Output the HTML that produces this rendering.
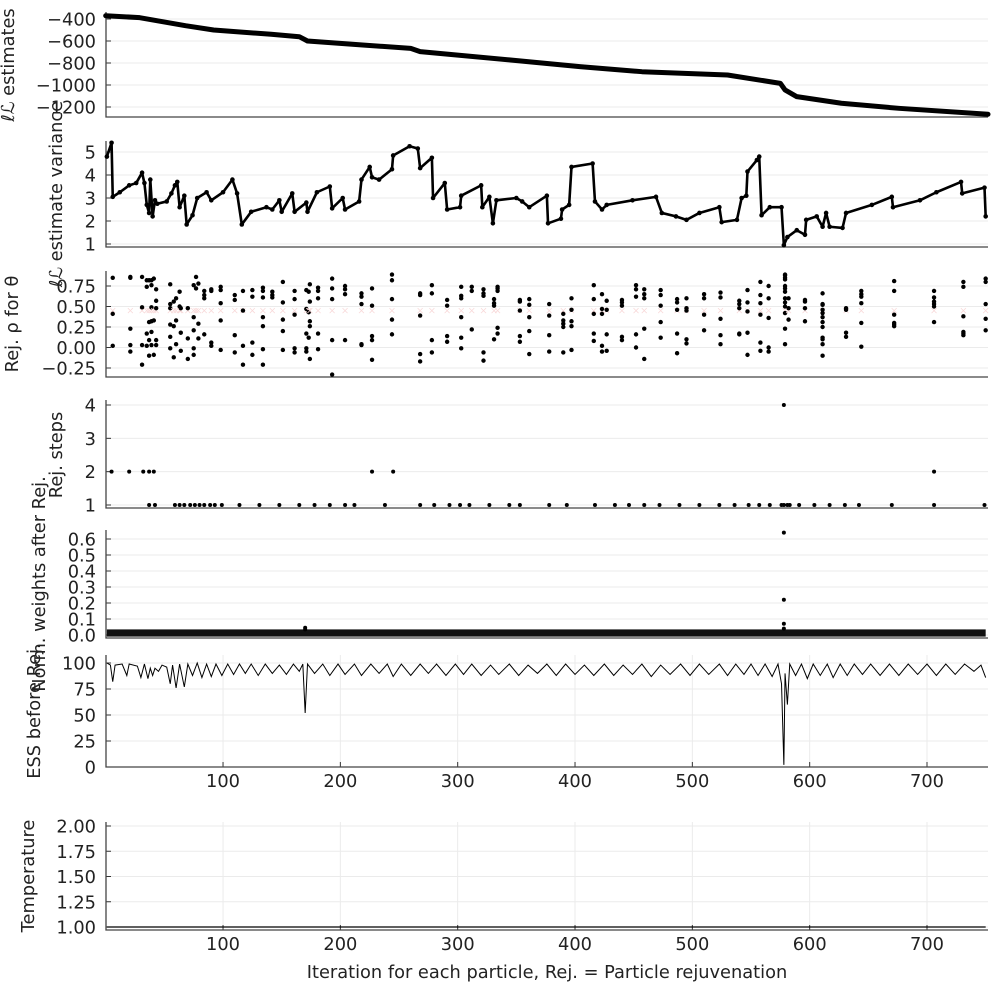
<!DOCTYPE html>
<html><head><meta charset="utf-8"><style>
body{margin:0;background:#fff;}
svg{display:block;font-family:"DejaVu Sans","Liberation Sans",sans-serif;}
</style></head><body>
<svg id="chart" width="999" height="999" viewBox="0 0 999 999"></svg>
<script>
// ---------- data ----------
const llIters=[0,29,68,92,141,165,172,219,260,268,345,404,457,530,575,579,589,627,676,752];
const llVals=[-370,-388,-461,-500,-539,-561,-600,-636,-667,-697,-773,-833,-879,-909,-985,-1045,-1106,-1166,-1212,-1266];
const varIters=[1,5,6,12,20,26,31,33,35,37,38,40,42,44,52,56,59,61,63,67,69,74,78,86,90,100,108,112,116,124,137,142,148,150,159,161,171,172,180,191,193,202,204,216,218,225,227,233,244,245,259,266,268,278,279,289,291,302,303,320,321,327,330,333,350,355,361,376,377,388,389,395,397,415,417,423,427,449,469,474,486,495,506,523,525,538,542,546,547,555,557,559,566,576,578,581,589,596,597,606,611,614,617,628,631,653,670,671,694,708,729,730,749,750];
const varVals=[4.8,5.4,3.05,3.25,3.55,3.65,4.1,3.65,2.7,2.35,3.8,2.2,2.9,2.75,2.85,3.2,3.55,3.7,2.6,3.1,1.85,2.25,3.0,3.25,2.9,3.25,3.8,3.2,1.85,2.4,2.6,2.5,2.9,2.4,3.2,2.4,2.8,2.4,3.25,3.5,2.55,3.0,2.5,2.85,3.8,4.35,3.9,3.8,4.25,4.85,5.25,5.15,4.3,4.75,3.0,3.65,2.5,2.6,3.1,3.55,2.6,3.05,1.9,2.9,3.0,2.85,2.6,3.1,1.9,2.1,2.5,2.7,4.35,4.5,2.85,2.5,2.7,2.9,3.05,2.35,2.2,2.05,2.35,2.6,1.95,2.05,3.0,3.1,4.15,4.65,4.8,2.25,2.6,2.6,0.95,1.3,1.6,1.4,2.05,2.2,1.75,2.35,1.75,1.7,2.35,2.7,3.05,2.6,2.9,3.25,3.7,3.2,3.45,2.2];
const rhoIters=[6,21,31,35,37,39,41,43,55,58,60,63,64,70,75,77,79,84,90,98,110,117,125,134,142,151,161,171,173,174,181,193,204,218,227,244,268,278,291,303,312,322,331,334,353,361,378,390,397,416,423,427,440,452,459,473,487,495,510,524,540,547,558,565,579,582,596,611,631,644,672,706,731,750];
const rhoVals=[
[0.85,0.41,0.02],[0.86,0.85,0.23,0.03,-0.05],[0.86,0.49,0.03,-0.21],[0.82,0.74,0.17,0.02],[0.82,0.31,0.09,-0.10],
[0.82,0.76,0.49,0.32,0.19,0.03],[0.84,0.33,-0.09],[0.71,0.57,0.48,0.09,0.03],[0.77,0.53,0.48,0.28,0.13,-0.01],[0.56,0.26,-0.12],
[0.60,0.33,0.04],[0.68,0.50],[0.48,0.18,-0.04],[0.48,0.11,-0.14],[0.76,0.37,0.21,-0.01,-0.09],
[0.86,0.72],[0.78,0.29,0.11],[0.69,0.64,0.60,0.16],[0.71,0.69,0.06,0.02],[0.74,0.70,0.54,0.33,-0.03],
[0.64,0.58,0.15,-0.06],[0.69,0.45,0.02,-0.21],[0.70,0.62,0.06,-0.09],[0.73,0.69,0.61,0.37,0.26,-0.02,-0.21],[0.68,0.64,0.61],
[0.80,0.55,0.34,0.20,-0.03],[0.69,0.59,0.40,-0.01,-0.06],[0.70,0.47,0.17,-0.01,-0.05],[0.68,0.43,0.12],[0.77,0.56,0.32,0.26,-0.14],
[0.73,0.69,0.60,0.17,-0.02],[0.84,0.72,0.59,0.09,-0.33],[0.75,0.71,0.65,0.09],[0.66,0.62,0.53,0.04,0.03],[0.72,0.51,0.14,0.09,-0.15],
[0.89,0.82,0.59,0.34,0.16],[0.66,0.64,0.39,-0.08,-0.17],[0.76,0.66,0.09,-0.06],[0.58,0.51,0.14,0.07],[0.74,0.63,0.60,0.37,0.12,-0.01],
[0.74,0.69,0.22],[0.71,0.66,0.63,-0.06,-0.16],[0.59,0.54,0.51,0.10],[0.74,0.72,0.69,0.24,0.17],[0.58,0.56,0.45,0.14,0.07],
[0.59,0.52,0.37,0.20,-0.08],[0.53,0.39,0.15,-0.05],[0.41,0.33,0.29,0.25,-0.06],[0.60,0.46,0.32,0.26,-0.03],[0.76,0.59,0.41,0.17,0.08],
[0.65,0.47,0.41,0.02,-0.05],[0.57,0.46,0.16,-0.04],[0.58,0.55,0.51,0.13,0.09],[0.76,0.71,0.62,0.16,0.00],[0.71,0.65,0.60,0.23,-0.14],
[0.70,0.64,0.51,0.31,0.12],[0.59,0.55,0.46,0.17,-0.07],[0.60,0.48,0.45,0.10,0.05],[0.65,0.60,0.40,0.21],[0.67,0.61,0.35,0.15,0.04],
[0.57,0.53,0.48,0.17,0.16],[0.70,0.55,0.44,0.18,-0.09],[0.80,0.64,0.54,0.40,0.06,-0.04],[0.75,0.60,0.36,0.00,-0.05],
[0.89,0.88,0.85,0.83,0.75,0.72,0.68,0.60,0.55,0.50,0.42,0.23,0.04],[0.60,0.48,0.34],[0.58,0.56,0.48,0.32],
[0.66,0.53,0.42,0.52,0.46,0.37,0.31,0.25,0.12,0.10,0.04,-0.10],[0.48,0.46,0.18,0.13],[0.69,0.65,0.62,0.54,0.30,0.01],
[0.81,0.69,0.40,0.30,0.28,0.26],[0.69,0.61,0.56,0.53,0.50,0.31],[0.80,0.74,0.38,0.19,0.17,0.15],[0.84,0.80,0.53,0.35,0.21]];
const rejIters2=[5,20,32,37,41,227,245,706];
const rejVals2=[2,2,2,2,2,2,2,2];
const rejIters1=[37,42,59,63,67,72,76,80,84,89,93,99,114,131,148,165,178,191,204,212,238,268,280,293,302,310,327,344,353,378,393,417,434,446,459,472,489,506,523,536,548,557,566,576,578,581,583,591,604,617,630,642,670,706,749];
const rejIters4=[578];
const wBandIters=[1,750];
const wBandLo=[-0.01,-0.01];
const wBandHi=[0.035,0.035];
const wOutIters=[170,170,578,578,578,578];
const wOutVals=[0.045,0.035,0.64,0.22,0.07,0.04];
const essIters=[1,4,6,8,14,18,20,27,30,33,36,38,40,42,45,48,52,55,57,60,63,67,70,74,78,82,86,90,94,99,104,109,114,119,124,130,136,142,148,154,160,165,168,170,172,178,185,191,198,204,212,218,226,233,240,245,252,260,268,275,282,290,298,305,312,320,328,335,344,352,360,368,376,384,392,400,408,416,425,433,441,449,457,465,473,481,490,498,506,514,523,530,537,544,550,556,562,568,573,576,578,579,581,583,588,593,598,603,609,615,620,626,632,638,645,652,660,668,676,684,692,700,708,716,724,732,740,746,750];
const essVals=[100,98,82,98,99,88,99,97,86,99,85,95,88,95,92,98,96,80,98,76,99,77,99,88,100,86,99,87,99,88,99,89,99,90,99,88,99,90,98,89,99,92,99,52,99,90,99,88,99,89,99,88,99,90,99,87,99,88,99,90,99,88,99,89,99,88,98,89,99,88,98,90,99,88,99,89,98,88,99,88,98,89,99,87,98,89,99,88,99,89,99,88,99,89,99,88,99,87,99,80,2,90,60,99,88,99,85,99,88,99,86,99,88,99,89,99,88,99,88,99,89,99,88,99,89,99,92,98,86];
const tempIters=[1,750];
const tempVals=[1,1];
const xTicks=[100,200,300,400,500,600,700];

// ---------- helpers ----------
const svg=document.getElementById('chart');
const NS='http://www.w3.org/2000/svg';
const FS=17.8;
function mk(tag,attrs,parent){const e=document.createElementNS(NS,tag);for(const k in attrs)e.setAttribute(k,attrs[k]);(parent||svg).appendChild(e);return e;}
const X0=105.7,XS=1.1733;
function xs(i){return X0+XS*i;}
const L=106,R=988;
function panel(name,top,bottom,v1,p1,v2,p2,ticks,labels,vgrid){
  const g=mk('g',{});
  
  
  const ys=v=>p1+(v-v1)*(p2-p1)/(v2-v1);
  if(vgrid){xTicks.forEach(t=>{const x=xs(t);
    const vl=mk('line',{x1:x,x2:x,y1:top,y2:bottom,stroke:'#ebebeb','stroke-width':1},g);
    
    
    mk('line',{x1:x,x2:x,y1:bottom,y2:bottom-5,stroke:'#333','stroke-width':1},g);
    const tx=mk('text',{x:x,y:bottom+20,'text-anchor':'middle','font-size':FS,fill:'#222'},g);
    tx.textContent=t;
    
    
  });}
  ticks.forEach((t,k)=>{
    const y=ys(t);
    const gl=mk('line',{x1:L,x2:R,y1:y,y2:y,stroke:'#ebebeb','stroke-width':1},g);
    
    
    mk('line',{x1:L,x2:L+5,y1:y,y2:y,stroke:'#333','stroke-width':1},g);
    const tx=mk('text',{x:96,y:y+6.5,'text-anchor':'end','font-size':FS,fill:'#222'},g);
    tx.textContent=labels[k];
    
    
  });
  const ax=mk('path',{d:`M${L} ${top}V${bottom}H${R}`,fill:'none',stroke:'#444','stroke-width':1.3},g);
  
  
  return {g,ys};
}
function ylabel(text,x,y,name){
  const t=mk('text',{x:x,y:y,'text-anchor':'middle','font-size':FS,fill:'#222',transform:`rotate(-90 ${x} ${y})`});
  t.textContent=text;
  
  
}
function dot(g,x,y,r,name){const c=mk('circle',{cx:x,cy:y,r:r,fill:'#000'},g);
  
  return c;}

// ---------- panel 1 ----------
let p=panel('ll-estimates-panel',12,117,-400,19,-1200,107,[-400,-600,-800,-1000,-1200],['−400','−600','−800','−1000','−1200']);
let pl=mk('polyline',{points:llIters.map((v,k)=>xs(v)+','+p.ys(llVals[k])).join(' '),fill:'none',stroke:'#000','stroke-width':5,'stroke-linejoin':'round','stroke-linecap':'round'},p.g);


ylabel('ℓℒ estimates',14,65,'ll-estimates-y-title');

// ---------- panel 2 ----------
p=panel('ll-variance-panel',141,247,5,152,1,244,[1,2,3,4,5],['1','2','3','4','5']);
pl=mk('polyline',{points:varIters.map((v,k)=>xs(v)+','+p.ys(varVals[k])).join(' '),fill:'none',stroke:'#000','stroke-width':2.6,'stroke-linejoin':'round'},p.g);


varIters.forEach((v,k)=>dot(p.g,xs(v),p.ys(varVals[k]),2.3,'ll-variance-point'));
ylabel('ℓℒ estimate variance',62,194,'ll-variance-y-title');

// ---------- panel 3 ----------
p=panel('rej-rho-panel',271,377,0.75,286,-0.25,368,[-0.25,0,0.25,0.5,0.75],['−0.25','0.00','0.25','0.50','0.75']);
rhoIters.forEach((it,k)=>{
  const vs=rhoVals[k]||[];
  const mx=xs(it),my=p.ys(0.45);
  const cr=mk('path',{d:`M${mx-2.5} ${my-2.5}L${mx+2.5} ${my+2.5}M${mx-2.5} ${my+2.5}L${mx+2.5} ${my-2.5}`,stroke:'#f8d8d8','stroke-width':0.8},p.g);
  
  
  vs.forEach(v=>dot(p.g,xs(it),p.ys(v),2.2,'rho-point'));
});
ylabel('Rej. ρ for θ',18,324,'rej-rho-y-title');

// ---------- panel 4 ----------
p=panel('rej-steps-panel',400,508,4,405,1,505,[1,2,3,4],['1','2','3','4']);
rejIters2.forEach((it,k)=>dot(p.g,xs(it),p.ys(rejVals2[k]),2,'rej-steps-point'));
rejIters1.forEach(it=>dot(p.g,xs(it),p.ys(1),2,'rej-steps-point'));
rejIters4.forEach(it=>dot(p.g,xs(it),p.ys(4),2,'rej-steps-point'));
ylabel('Rej. steps',62,455,'rej-steps-y-title');

// ---------- panel 5 ----------
p=panel('weights-panel',530,638,0,635,0.6,539,[0,0.1,0.2,0.3,0.4,0.5,0.6],['0.0','0.1','0.2','0.3','0.4','0.5','0.6']);
const band=mk('rect',{x:xs(wBandIters[0]),y:p.ys(wBandHi[0]),width:xs(wBandIters[1])-xs(wBandIters[0]),height:p.ys(wBandLo[0])-p.ys(wBandHi[0]),fill:'#111'},p.g);


wOutIters.forEach((it,k)=>dot(p.g,xs(it),p.ys(wOutVals[k]),2,'weight-outlier-point'));
ylabel('Norm. weights after Rej.',45,584,'weights-y-title');

// ---------- panel 6 ----------
p=panel('ess-panel',655,767,100,663,0,767,[0,25,50,75,100],['0','25','50','75','100'],true);
pl=mk('polyline',{points:essIters.map((v,k)=>xs(v)+','+p.ys(essVals[k])).join(' '),fill:'none',stroke:'#000','stroke-width':1},p.g);


ylabel('ESS before Rej.',40,711,'ess-y-title');

// ---------- panel 7 ----------
p=panel('temperature-panel',822,930,2,826,1,927,[1,1.25,1.5,1.75,2],['1.00','1.25','1.50','1.75','2.00'],true);
pl=mk('polyline',{points:tempIters.map((v,k)=>xs(v)+','+p.ys(tempVals[k])).join(' '),fill:'none',stroke:'#000','stroke-width':1.3},p.g);


ylabel('Temperature',34,876,'temperature-y-title');

const xt=mk('text',{x:547,y:978,'text-anchor':'middle','font-size':FS,fill:'#222'});
xt.textContent='Iteration for each particle, Rej. = Particle rejuvenation';


</script>
</body></html>
